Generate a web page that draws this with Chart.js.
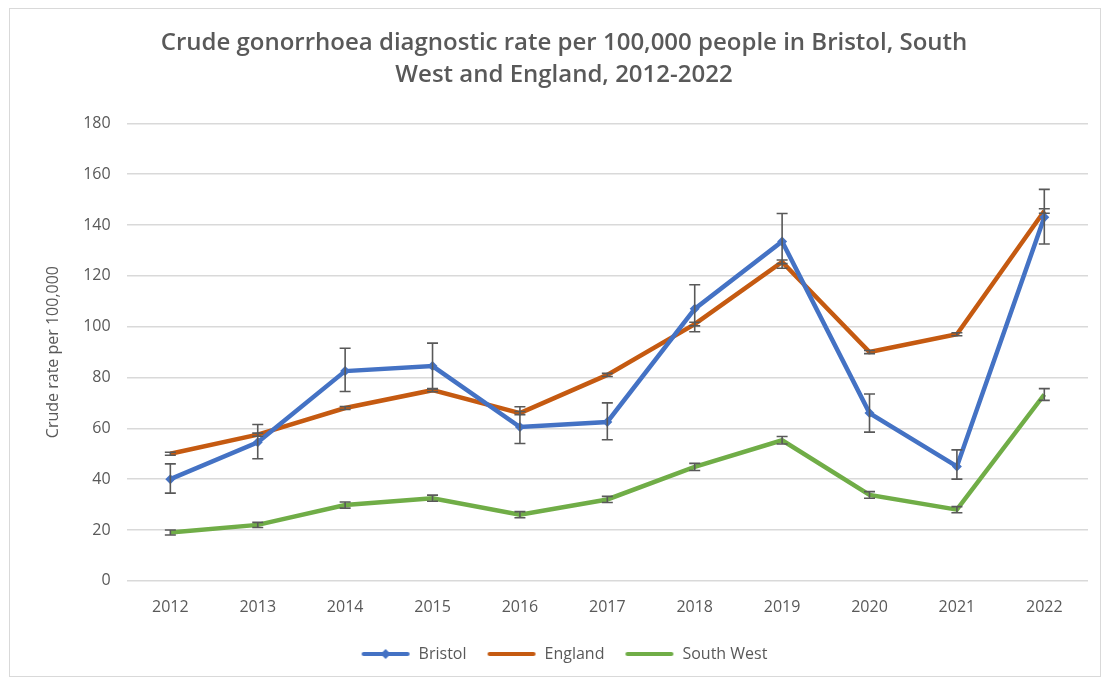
<!DOCTYPE html>
<html>
<head>
<meta charset="utf-8">
<style>
  * { margin: 0; padding: 0; box-sizing: border-box; }
  body { background: #ffffff; width: 1104px; height: 682px; overflow: hidden; }
  .frame {
    position: absolute;
    left: 9px;
    top: 8px;
    width: 1092px;
    height: 669px;
    border: 1px solid #d9d9d9;
    background: #fff;
  }
  canvas { display: block; }
</style>
</head>
<body>
<div class="frame">
  <canvas id="chart" width="1090" height="667"></canvas>
</div>
<script src="https://cdn.jsdelivr.net/npm/chart.js@4.4.1/dist/chart.umd.min.js"></script>
<script>
// values
const years = ['2012', '2013', '2014', '2015', '2016', '2017', '2018', '2019', '2020', '2021', '2022'];

const bristol     = [40, 54.5, 82.5, 84.5, 60.5, 62.5, 107, 133.5, 66, 45, 143];
const bristolLow  = [34.5, 48, 74.5, 75.5, 54, 55.5, 98, 123, 58.5, 40, 132.5];
const bristolHigh = [46, 61.5, 91.5, 93.5, 68.5, 70, 116.5, 144.5, 73.5, 51.5, 154];

const england     = [50, 57.5, 68, 75, 66, 81, 101, 125.5, 90, 97, 145.5];
const englandLow  = [49.4, 56.9, 67.4, 74.4, 65.4, 80.4, 100.3, 124.8, 89.4, 96.4, 144.6];
const englandHigh = [50.6, 58.1, 68.6, 75.6, 66.6, 81.6, 101.7, 126.2, 90.6, 97.6, 146.4];

const southWest     = [19, 22, 29.8, 32.5, 26, 32, 44.8, 55.3, 33.8, 28, 73.3];
const southWestLow  = [18, 21, 28.6, 31.3, 24.8, 30.8, 43.4, 53.8, 32.5, 26.8, 71];
const southWestHigh = [20, 23, 31, 33.7, 27.2, 33.2, 46.2, 56.8, 35.1, 29.2, 75.6];

const yTicks = {min: 0, max: 180, step: 20};

const BLUE = '#4472C4';
const ORANGE = '#C55A11';
const GREEN = '#70AD47';
const GREY = '#595959';

// little legend icons, drawn like the excel ones
function legendIcon(color, diamond) {
  const c = document.createElement('canvas');
  c.width = 50;
  c.height = 12;
  const ctx = c.getContext('2d');
  ctx.strokeStyle = color;
  ctx.lineWidth = 4;
  ctx.lineCap = 'round';
  ctx.beginPath();
  ctx.moveTo(3, 6);
  ctx.lineTo(47, 6);
  ctx.stroke();
  if (diamond) {
    ctx.fillStyle = color;
    ctx.beginPath();
    ctx.moveTo(25, 1);
    ctx.lineTo(30, 6);
    ctx.lineTo(25, 11);
    ctx.lineTo(20, 6);
    ctx.closePath();
    ctx.fill();
  }
  return c;
}

// error bars drawn through the y scale
const errorBars = {
  id: 'errorBars',
  afterDatasetsDraw(chart) {
    const ctx = chart.ctx;
    const yScale = chart.scales.y;
    ctx.save();
    ctx.strokeStyle = GREY;
    ctx.lineWidth = 1.6;
    chart.data.datasets.forEach((ds, i) => {
      if (!ds.errLow) return;
      const meta = chart.getDatasetMeta(i);
      meta.data.forEach((pt, j) => {
        const x = pt.x;
        const yl = yScale.getPixelForValue(ds.errLow[j]);
        const yh = yScale.getPixelForValue(ds.errHigh[j]);
        ctx.beginPath();
        ctx.moveTo(x, yl);
        ctx.lineTo(x, yh);
        ctx.moveTo(x - 5.5, yl);
        ctx.lineTo(x + 5.5, yl);
        ctx.moveTo(x - 5.5, yh);
        ctx.lineTo(x + 5.5, yh);
        ctx.stroke();
      });
    });
    ctx.restore();
  },
};

const icons = [legendIcon(BLUE, true), legendIcon(ORANGE, false), legendIcon(GREEN, false)];

new Chart(document.getElementById('chart'), {
  type: 'line',
  data: {
    labels: years,
    datasets: [
      {
        label: 'Bristol',
        data: bristol,
        errLow: bristolLow,
        errHigh: bristolHigh,
        borderColor: BLUE,
        backgroundColor: BLUE,
        borderWidth: 4.5,
        pointStyle: 'rectRot',
        pointRadius: 5,
        pointBorderWidth: 0,
        tension: 0,
      },
      {
        label: 'England',
        data: england,
        errLow: englandLow,
        errHigh: englandHigh,
        borderColor: ORANGE,
        backgroundColor: ORANGE,
        borderWidth: 4.5,
        pointRadius: 0,
        tension: 0,
      },
      {
        label: 'South West',
        data: southWest,
        errLow: southWestLow,
        errHigh: southWestHigh,
        borderColor: GREEN,
        backgroundColor: GREEN,
        borderWidth: 4.5,
        pointRadius: 0,
        tension: 0,
      },
    ],
  },
  options: {
    responsive: false,
    animation: false,
    layout: {padding: {left: 30, right: 12, top: 4, bottom: 4}},
    plugins: {
      title: {
        display: true,
        text: ['Crude gonorrhoea diagnostic rate per 100,000 people in Bristol, South', 'West and England, 2012-2022'],
        color: GREY,
        font: {family: 'Open Sans', size: 24, weight: '600', lineHeight: 1.34},
        padding: {top: 14, bottom: 32},
      },
      legend: {
        position: 'bottom',
        labels: {
          color: GREY,
          font: {family: 'Open Sans', size: 16},
          usePointStyle: true,
          pointStyleWidth: 50,
          boxHeight: 12,
          padding: 20,
          generateLabels(chart) {
            return chart.data.datasets.map((ds, i) => ({
              text: ds.label,
              pointStyle: icons[i],
              fontColor: GREY,
              strokeStyle: ds.borderColor,
              fillStyle: ds.borderColor,
              lineWidth: 0,
              datasetIndex: i,
              hidden: false,
            }));
          },
        },
      },
      tooltip: {enabled: false},
    },
    scales: {
      x: {
        offset: true,
        grid: {display: false},
        border: {display: false},
        ticks: {color: GREY, font: {family: 'Open Sans', size: 16}, padding: 9},
      },
      y: {
        min: yTicks.min,
        max: yTicks.max,
        border: {display: false},
        grid: {color: '#d9d9d9', lineWidth: 1.4, drawTicks: false},
        ticks: {
          stepSize: yTicks.step,
          color: GREY,
          font: {family: 'Open Sans', size: 16},
          padding: 16,
        },
        title: {
          display: true,
          text: 'Crude rate per 100,000',
          color: GREY,
          font: {family: 'Open Sans', size: 16},
          padding: {bottom: 4},
        },
      },
    },
  },
  plugins: [errorBars],
});
</script>
</body>
</html>
